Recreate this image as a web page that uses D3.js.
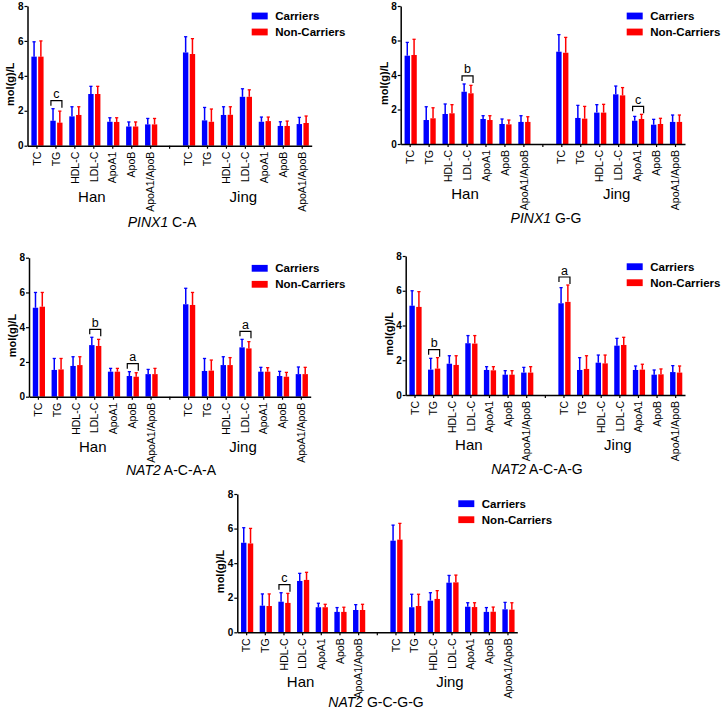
<!DOCTYPE html>
<html>
<head>
<meta charset="utf-8">
<script src="https://cdn.jsdelivr.net/npm/d3@7/dist/d3.min.js"></script>
<style>
  html, body { margin: 0; padding: 0; background: #ffffff; }
  svg { display: block; font-family: "Liberation Sans", Arial, sans-serif; }
</style>
</head>
<body>
<svg id="chart" width="722" height="712"></svg>
<script>
// ---------------- DATA ----------------
const categories = ["TC", "TG", "HDL-C", "LDL-C", "ApoA1", "ApoB", "ApoA1/ApoB"];
const groups = ["Han", "Jing"];
const seriesNames = ["Carriers", "Non-Carriers"];
const yTicks = [0, 2, 4, 6, 8];

const panelGenes = ["PINX1", "PINX1", "NAT2", "NAT2", "NAT2"];
const panelAlleles = ["C-A", "G-G", "A-C-A-A", "A-C-A-G", "G-C-G-G"];

// values: Han (7) followed by Jing (7)
const p1Carriers     = [5.10,1.43,1.68,2.96,1.37,1.10,1.22, 5.34,1.45,1.76,2.80,1.37,1.13,1.24];
const p1CarriersSD   = [0.85,0.69,0.55,0.44,0.23,0.26,0.34, 0.90,0.74,0.47,0.46,0.27,0.24,0.38];
const p1NonCarriers  = [5.10,1.32,1.76,2.96,1.36,1.10,1.22, 5.25,1.37,1.77,2.80,1.41,1.13,1.30];
const p1NonCarriersSD= [0.90,0.66,0.47,0.44,0.24,0.26,0.34, 0.88,0.73,0.46,0.40,0.23,0.28,0.40];

const p2Carriers     = [5.12,1.39,1.74,3.03,1.45,1.16,1.28, 5.35,1.51,1.82,2.88,1.35,1.12,1.28];
const p2CarriersSD   = [0.77,0.77,0.58,0.45,0.19,0.29,0.36, 0.99,0.73,0.46,0.48,0.25,0.31,0.40];
const p2NonCarriers  = [5.16,1.49,1.78,2.94,1.39,1.14,1.28, 5.29,1.47,1.82,2.82,1.45,1.16,1.28];
const p2NonCarriersSD= [0.91,0.61,0.50,0.46,0.25,0.25,0.30, 0.89,0.71,0.48,0.45,0.27,0.33,0.40];

const p3Carriers     = [5.12,1.54,1.77,2.97,1.44,1.19,1.30, 5.32,1.48,1.82,2.84,1.44,1.19,1.30];
const p3CarriersSD   = [0.88,0.66,0.53,0.45,0.19,0.25,0.27, 0.92,0.72,0.48,0.46,0.25,0.27,0.41];
const p3NonCarriers  = [5.18,1.57,1.82,2.92,1.44,1.15,1.30, 5.28,1.50,1.82,2.78,1.44,1.15,1.30];
const p3NonCarriersSD= [0.82,0.63,0.48,0.38,0.19,0.23,0.33, 0.72,0.61,0.43,0.39,0.23,0.25,0.39];

const p4Carriers     = [5.14,1.46,1.80,2.98,1.44,1.17,1.29, 5.28,1.44,1.86,2.84,1.44,1.17,1.32];
const p4CarriersSD   = [0.86,0.65,0.46,0.44,0.19,0.23,0.30, 0.90,0.71,0.44,0.42,0.23,0.27,0.37];
const p4NonCarriers  = [5.07,1.52,1.73,2.96,1.42,1.17,1.29, 5.36,1.50,1.82,2.88,1.46,1.19,1.29];
const p4NonCarriersSD= [0.88,0.63,0.53,0.46,0.21,0.23,0.34, 0.97,0.76,0.48,0.44,0.31,0.31,0.38];

const p5Carriers     = [5.18,1.54,1.77,2.97,1.45,1.18,1.29, 5.30,1.45,1.83,2.87,1.48,1.18,1.33];
const p5CarriersSD   = [0.87,0.68,0.52,0.44,0.23,0.25,0.31, 0.90,0.75,0.46,0.42,0.23,0.25,0.40];
const p5NonCarriers  = [5.14,1.52,1.70,3.03,1.45,1.18,1.29, 5.36,1.52,1.93,2.89,1.46,1.19,1.31];
const p5NonCarriersSD= [0.87,0.70,0.55,0.44,0.17,0.27,0.33, 0.94,0.68,0.48,0.42,0.25,0.27,0.40];

// significance marks: [panel index, group, category, letter]
const sigMarks = [
  [0, "Han", "TG", "c"],
  [1, "Han", "LDL-C", "b"],
  [1, "Jing", "ApoA1", "c"],
  [2, "Han", "LDL-C", "b"],
  [2, "Han", "ApoB", "a"],
  [2, "Jing", "LDL-C", "a"],
  [3, "Han", "TG", "b"],
  [3, "Jing", "TC", "a"],
  [4, "Han", "HDL-C", "c"]
];

// ---------------- LAYOUT ----------------
const colors = ["#0000ff", "#ff0000"];
const layouts = [
  {left: 27.5, top: 6,     bottom: 145.7, right: 311.7, legX: 251.7, legY: 16,    groupY: 201.5, titleY: 227, titleX: 162},
  {left: 400.7, top: 6,    bottom: 144,   right: 685,   legX: 626.7, legY: 16,    groupY: 199,   titleY: 223, titleX: 546},
  {left: 29,   top: 257.7, bottom: 396.7, right: 310.7, legX: 251.7, legY: 268.3, groupY: 451.5, titleY: 475, titleX: 171},
  {left: 405.7, top: 256,  bottom: 395,   right: 685,   legX: 626.7, legY: 266.7, groupY: 450,   titleY: 474, titleX: 537},
  {left: 237.3, top: 494,  bottom: 632.3, right: 517.3, legX: 458.3, legY: 503.7, groupY: 686.5, titleY: 707, titleX: 376}
];
const panelData = [
  [p1Carriers, p1CarriersSD, p1NonCarriers, p1NonCarriersSD],
  [p2Carriers, p2CarriersSD, p2NonCarriers, p2NonCarriersSD],
  [p3Carriers, p3CarriersSD, p3NonCarriers, p3NonCarriersSD],
  [p4Carriers, p4CarriersSD, p4NonCarriers, p4NonCarriersSD],
  [p5Carriers, p5CarriersSD, p5NonCarriers, p5NonCarriersSD]
];

const svg = d3.select("#chart");
const slots = [];
groups.forEach((g, gi) => {
  categories.forEach(c => slots.push(g + "|" + c));
  if (gi === 0) slots.push("gap");
});

panelData.forEach((pd, pi) => {
  const L = layouts[pi];
  const g = svg.append("g");
  const x = d3.scaleBand().domain(slots).range([L.left, L.right]).padding(0);
  const y = d3.scaleLinear().domain([0, 8]).range([L.bottom, L.top]);
  const barW = 5.4, gapW = 1.4, shift = 0.5;
  const inner = d3.scaleBand().domain(seriesNames)
    .range([-(barW + gapW / 2), barW + gapW / 2]).paddingInner(gapW / (barW + gapW));

  // records
  const recs = [];
  groups.forEach((grp, gi) => {
    categories.forEach((cat, ci) => {
      const idx = gi * 7 + ci;
      seriesNames.forEach((s, si) => {
        recs.push({slot: grp + "|" + cat, series: s, si,
          value: pd[si * 2][idx], sd: pd[si * 2 + 1][idx]});
      });
    });
  });

  // bars
  g.selectAll("rect.bar").data(recs).join("rect")
    .attr("class", "bar")
    .attr("x", d => x(d.slot) + x.bandwidth() / 2 + shift + inner(d.series))
    .attr("width", inner.bandwidth())
    .attr("y", d => y(d.value))
    .attr("height", d => y(0) - y(d.value))
    .attr("fill", d => colors[d.si]);

  // error bars
  const cx = d => x(d.slot) + x.bandwidth() / 2 + shift + inner(d.series) + inner.bandwidth() / 2;
  g.selectAll("line.err").data(recs).join("line")
    .attr("x1", cx).attr("x2", cx)
    .attr("y1", d => y(d.value)).attr("y2", d => y(d.value + d.sd))
    .attr("stroke", d => colors[d.si]).attr("stroke-width", 1.5);
  g.selectAll("line.cap").data(recs).join("line")
    .attr("x1", d => cx(d) - 1.6).attr("x2", d => cx(d) + 1.6)
    .attr("y1", d => y(d.value + d.sd)).attr("y2", d => y(d.value + d.sd))
    .attr("stroke", d => colors[d.si]).attr("stroke-width", 1.3);

  // y axis
  const yAxis = g.append("g").attr("transform", `translate(${L.left},0)`)
    .call(d3.axisLeft(y).tickValues(yTicks).tickSize(3).tickSizeOuter(0).tickPadding(1));
  yAxis.select(".domain").attr("stroke", "#000").attr("stroke-width", 1.5);
  yAxis.selectAll(".tick line").attr("stroke", "#000").attr("stroke-width", 1.2);
  yAxis.selectAll(".tick text").attr("font-size", 10).attr("font-weight", "bold")
    .attr("fill", "#000").attr("font-family", "Liberation Sans, Arial, sans-serif");

  // x axis
  const xAxis = g.append("g").attr("transform", `translate(0,${L.bottom})`)
    .call(d3.axisBottom(x).tickSize(3).tickSizeOuter(0)
      .tickFormat(d => d === "gap" ? "" : d.split("|")[1]));
  xAxis.select(".domain").attr("stroke", "#000").attr("stroke-width", 1.5);
  xAxis.selectAll(".tick line").attr("stroke", "#000").attr("stroke-width", 1.2);
  xAxis.selectAll(".tick text")
    .attr("font-size", 10.5).attr("fill", "#000")
    .attr("font-family", "Liberation Sans, Arial, sans-serif")
    .attr("transform", "rotate(-90)")
    .attr("text-anchor", "end")
    .attr("x", -6).attr("y", 0).attr("dy", "0.35em");

  // y label
  const ylx = L.left - 17, yly = L.top + 0.56 * (L.bottom - L.top);
  g.append("text").attr("transform", `translate(${ylx},${yly}) rotate(-90)`)
    .attr("text-anchor", "middle").attr("font-size", 11).attr("font-weight", "bold")
    .attr("dy", "0.35em").text("mol(g)/L");

  // group labels
  groups.forEach(grp => {
    g.append("text")
      .attr("x", x(grp + "|" + categories[3]) + x.bandwidth() / 2 - 2)
      .attr("y", L.groupY)
      .attr("text-anchor", "middle").attr("font-size", 15).text(grp);
  });

  // title
  const t = g.append("text").attr("x", L.titleX).attr("y", L.titleY)
    .attr("text-anchor", "middle").attr("font-size", 14);
  t.append("tspan").attr("font-style", "italic").text(panelGenes[pi]);
  t.append("tspan").text(" " + panelAlleles[pi]);

  // legend
  seriesNames.forEach((s, si) => {
    const ly = L.legY + si * 16;
    g.append("rect").attr("x", L.legX).attr("y", ly - 3.4)
      .attr("width", 16).attr("height", 6.8).attr("fill", colors[si]);
    g.append("text").attr("x", L.legX + 23.5).attr("y", ly).attr("dy", "0.35em")
      .attr("font-size", 11.5).attr("font-weight", "bold").text(s);
  });

  // significance brackets
  sigMarks.filter(m => m[0] === pi).forEach(m => {
    const slot = m[1] + "|" + m[2];
    const r = recs.filter(d => d.slot === slot);
    const top = d3.max(r, d => d.value + d.sd);
    const c = x(slot) + x.bandwidth() / 2 + shift;
    const by = y(top) - 8;
    g.append("path")
      .attr("d", `M${c - 5.5},${by + 5} V${by} H${c + 5.5} V${by + 7}`)
      .attr("fill", "none").attr("stroke", "#000").attr("stroke-width", 1.2);
    g.append("text").attr("x", c).attr("y", by - 2.5)
      .attr("text-anchor", "middle").attr("font-size", 12.5).text(m[3]);
  });
});
</script>
</body>
</html>
